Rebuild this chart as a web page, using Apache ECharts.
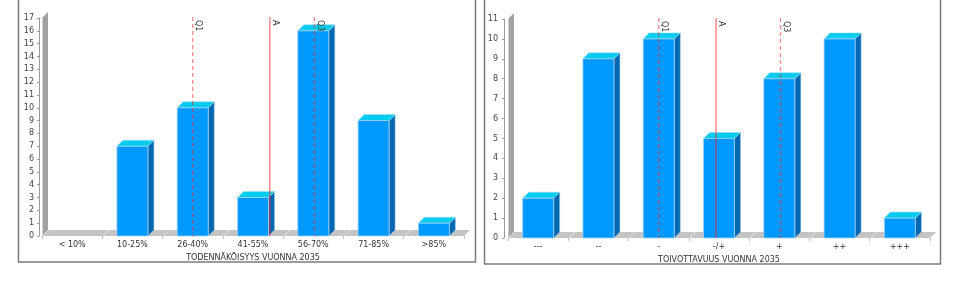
<!DOCTYPE html>
<html><head><meta charset="utf-8">
<script src="https://cdn.jsdelivr.net/npm/echarts@6/dist/echarts.min.js"></script>
<style>html,body{margin:0;padding:0;background:#fff}#c{width:960px;height:282px}</style>
</head><body><div id="c"></div>
<script>
// ---- data ----
const catsLeft = ['< 10%', '10-25%', '26-40%', '41-55%', '56-70%', '71-85%', '>85%'];
const valsLeft = [0, 7, 10, 3, 16, 9, 1];
const yMaxLeft = 17;
const nameLeft = 'TODENNÄKÖISYYS VUONNA 2035';

const catsRight = ['---', '--', '-', '-/+', '+', '++', '+++'];
const valsRight = [2, 9, 10, 5, 8, 10, 1];
const yMaxRight = 11;
const nameRight = 'TOIVOTTAVUUS VUONNA 2035';

const markLabels = ['Q1', 'A', 'Q3'];
const markDashed = [true, false, true];
const marksLeft = [2.0, 3.28, 4.02];
const marksRight = [2.0, 2.95, 4.02];

// ---- rendering ----
const D = 6; // 3D depth
const FONT = 'DejaVu Sans';

function floorItem(params, api) {
  const idx = api.value(0);
  const c = api.coord([idx, 0]);
  const band = api.size([1, 0])[0];
  const xl = c[0] - band / 2, xr = c[0] + band / 2, y0 = c[1];
  return {
    type: 'group', children: [
      { type: 'polygon', shape: { points: [[xl, y0], [xr, y0], [xr + D, y0 - D], [xl + D, y0 - D]] },
        style: { fill: '#c4c4c4' } },
      { type: 'line', shape: { x1: xl + 1, y1: y0, x2: xl + D + 1, y2: y0 - D },
        style: { stroke: '#dedede', lineWidth: 1 } }
    ]
  };
}

function wallItem(yMax) {
  return function (params, api) {
    if (params.dataIndex !== 0) return null;
    const band = api.size([1, 0])[0];
    const c0 = api.coord([0, 0]);
    const ct = api.coord([0, yMax]);
    const xl = c0[0] - band / 2, y0 = c0[1], yt = ct[1];
    return {
      type: 'group', children: [
        { type: 'polygon', shape: { points: [[xl, y0], [xl, yt], [xl + D, yt - D], [xl + D, y0 - D]] },
          style: { fill: '#a2a2a2' } },
        { type: 'line', shape: { x1: xl + 0.5, y1: y0, x2: xl + 0.5, y2: yt },
          style: { stroke: '#d0d0d0', lineWidth: 1 } }
      ]
    };
  };
}

function barItem(params, api) {
  const idx = api.value(0), v = api.value(1);
  if (!(v > 0)) return null;
  const base = api.coord([idx, 0]);
  const top = api.coord([idx, v]);
  const band = api.size([1, 0])[0];
  const w = band * 0.515;
  const x0 = base[0] - w / 2, x1 = base[0] + w / 2, y0 = base[1], y1 = top[1];
  return {
    type: 'group', children: [
      { type: 'polygon', shape: { points: [[x1, y0], [x1, y1], [x1 + D, y1 - D], [x1 + D, y0 - D]] },
        style: { fill: '#0068b0', stroke: '#9cc8e8', lineWidth: 0.6 } },
      { type: 'polygon', shape: { points: [[x0, y1], [x1, y1], [x1 + D, y1 - D], [x0 + D, y1 - D]] },
        style: { fill: '#00ccf0', stroke: '#9cdcf0', lineWidth: 0.6 } },
      { type: 'rect', shape: { x: x0, y: y1, width: w, height: y0 - y1 },
        style: { fill: '#0099ff', stroke: '#a6d2f2', lineWidth: 0.8 } }
    ]
  };
}

function markItem(yMax) {
  return function (params, api) {
    const pos = api.value(0);
    const i = params.dataIndex;
    const p0 = api.coord([pos, 0]);
    const p1 = api.coord([pos, yMax]);
    const dashed = markDashed[i];
    return {
      type: 'group', children: [
        { type: 'line', shape: { x1: p1[0], y1: p1[1] - 1, x2: p0[0], y2: p0[1] },
          style: dashed
            ? { stroke: 'rgba(255,40,40,0.5)', lineWidth: 1.4, lineDash: [4, 3] }
            : { stroke: 'rgba(255,30,30,0.8)', lineWidth: 1 } },
        { type: 'text', x: p1[0] + 1.5, y: p1[1] + 2, rotation: -Math.PI / 2,
          style: { text: markLabels[i], fontSize: 8, fontFamily: FONT, fill: '#333',
                   align: 'left', verticalAlign: 'bottom' } }
      ]
    };
  };
}

const chart = echarts.init(document.getElementById('c'), null, { renderer: 'canvas' });

function yAxisCfg(grid, max, offset, margin) {
  return {
    gridIndex: grid, type: 'value', min: 0, max: max, interval: 1, offset: offset,
    position: 'left',
    axisLine: { show: true, onZero: false, lineStyle: { color: '#9a9a9a', width: 1 } },
    axisTick: { show: true, length: 2, lineStyle: { color: '#9a9a9a' } },
    axisLabel: { fontSize: 8, color: '#444', margin: margin, fontFamily: FONT },
    splitLine: { show: false }
  };
}
function xAxisCfg(grid, cats, name) {
  return {
    gridIndex: grid, type: 'category', data: cats,
    axisLine: { show: false, onZero: false },
    axisTick: { show: true, length: 3, lineStyle: { color: '#c0c0c0' } },
    axisLabel: { fontSize: 8, color: '#333', margin: 5, interval: 0, fontFamily: FONT },
    name: name, nameLocation: 'middle', nameGap: 18,
    nameTextStyle: { fontSize: 8, color: '#333', fontFamily: FONT }
  };
}
function hiddenX(grid) {
  return { gridIndex: grid, type: 'value', min: -0.5, max: 6.5, show: false,
           axisLine: { show: false, onZero: false } };
}

const option = {
  animation: false,
  textStyle: { fontFamily: FONT },
  graphic: [
    { type: 'rect', shape: { x: 18.5, y: -10, width: 457, height: 272 },
      style: { fill: 'none', stroke: '#7c7c7c', lineWidth: 1.5 }, z: 0, silent: true },
    { type: 'rect', shape: { x: 484.5, y: -10, width: 456, height: 274 },
      style: { fill: 'none', stroke: '#7c7c7c', lineWidth: 1.5 }, z: 0, silent: true }
  ],
  grid: [
    { left: 42, top: 18, width: 422, height: 218 },
    { left: 508, top: 19, width: 422, height: 219 }
  ],
  xAxis: [
    xAxisCfg(0, catsLeft, nameLeft),
    xAxisCfg(1, catsRight, nameRight),
    hiddenX(0),
    hiddenX(1)
  ],
  yAxis: [
    yAxisCfg(0, yMaxLeft, 3, 5),
    yAxisCfg(1, yMaxRight, 4, 6)
  ],
  series: [
    { type: 'custom', xAxisIndex: 0, yAxisIndex: 0, z: 1, renderItem: floorItem,
      data: catsLeft.map((c, i) => [i, 0]), silent: true },
    { type: 'custom', xAxisIndex: 0, yAxisIndex: 0, z: 1, renderItem: wallItem(yMaxLeft),
      data: catsLeft.map((c, i) => [i, 0]), silent: true },
    { type: 'custom', xAxisIndex: 0, yAxisIndex: 0, z: 2, renderItem: barItem,
      data: valsLeft.map((v, i) => [i, v]), encode: { x: 0, y: 1 } },
    { type: 'custom', xAxisIndex: 2, yAxisIndex: 0, z: 3, renderItem: markItem(yMaxLeft),
      data: marksLeft.map(p => [p, 0]), silent: true },

    { type: 'custom', xAxisIndex: 1, yAxisIndex: 1, z: 1, renderItem: floorItem,
      data: catsRight.map((c, i) => [i, 0]), silent: true },
    { type: 'custom', xAxisIndex: 1, yAxisIndex: 1, z: 1, renderItem: wallItem(yMaxRight),
      data: catsRight.map((c, i) => [i, 0]), silent: true },
    { type: 'custom', xAxisIndex: 1, yAxisIndex: 1, z: 2, renderItem: barItem,
      data: valsRight.map((v, i) => [i, v]), encode: { x: 0, y: 1 } },
    { type: 'custom', xAxisIndex: 3, yAxisIndex: 1, z: 3, renderItem: markItem(yMaxRight),
      data: marksRight.map(p => [p, 0]), silent: true }
  ]
};
chart.setOption(option);
</script>
</body></html>
